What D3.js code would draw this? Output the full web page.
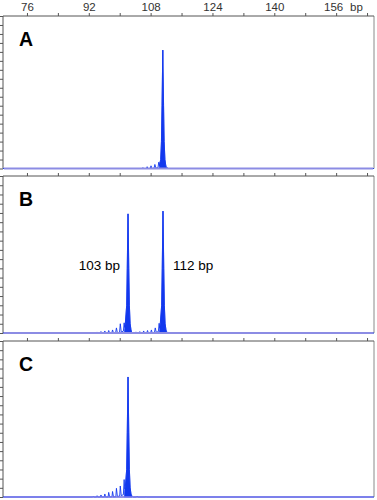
<!DOCTYPE html>
<html><head><meta charset="utf-8">
<script src="https://cdn.jsdelivr.net/npm/d3@7"></script>
<style>
html,body{margin:0;padding:0;background:#fff;}
svg{display:block;font-family:"Liberation Sans",Arial,sans-serif;}
</style></head>
<body>
<svg id="c" width="377" height="500"></svg>
<script>
// ---- data (bp, relative fluorescence) ----
const xTickValues = [76,84,92,100,108,116,124,132,140,148,156,164];
const xTickLabels = ["76","92","108","124","140","156"];
const xUnit = "bp";
const yTickValues = [0,100,200,300,400,500,600,700,800,900,1000,1100,1200,1300,1400,1500,1600,1700];
const panelNames = ["A","B","C"];
const peakLabels = [{panel:1, text:"103 bp", bp:102.15}, {panel:1, text:"112 bp", bp:111.2}];

const traceA = [[69.8,0],[105.8,0],[106.0,10],[106.2,0],[106.9,0],[107.1,20],[107.3,0],[107.9,2],[108.1,30],[108.35,0],[108.9,4],[109.1,45],[109.35,5],[109.9,8],[110.1,70],[110.3,30],[110.4,60],[110.6,100],[110.8,300],[110.95,700],[111.15,1320],[111.35,700],[111.5,300],[111.7,100],[111.9,40],[112.1,0],[112.35,10],[112.55,0],[165.8,0]];
const fillA = [[110.2,0],[110.4,60],[110.6,100],[110.8,300],[110.95,700],[111.15,1320],[111.35,700],[111.5,300],[111.7,100],[111.9,40],[112.1,0]];

const traceB = [[69.8,0],[94.0,0],[94.15,11],[94.35,0],[95.0,0],[95.15,16],[95.35,0],[95.95,0],[96.15,22],[96.35,0],[96.95,0],[97.15,27],[97.4,0],[97.95,2],[98.15,33],[98.4,0],[98.95,4],[99.15,55],[99.4,2],[99.95,6],[100.15,100],[100.4,10],[100.95,20],[101.15,110],[101.3,60],[101.45,100],[101.8,300],[101.95,700],[102.15,1290],[102.35,700],[102.5,300],[102.7,100],[102.9,40],[103.1,0],[103.25,10],[103.45,0],[104.0,0],[104.2,12],[104.4,0],[105.0,0],[105.2,15],[105.4,0],[106.0,0],[106.2,22],[106.4,0],[107.0,2],[107.2,27],[107.4,0],[108.0,3],[108.2,33],[108.4,2],[109.0,6],[109.2,55],[109.45,8],[110.0,15],[110.2,105],[110.35,50],[110.5,100],[110.85,300],[111.0,700],[111.2,1320],[111.4,700],[111.55,300],[111.75,100],[111.95,40],[112.15,0],[112.35,12],[112.55,0],[165.8,0]];
const fillB1 = [[101.2,0],[101.3,60],[101.45,100],[101.8,300],[101.95,700],[102.15,1290],[102.35,700],[102.5,300],[102.7,100],[102.9,40],[103.1,0]];
const fillB2 = [[110.25,0],[110.35,50],[110.5,100],[110.85,300],[111.0,700],[111.2,1320],[111.4,700],[111.55,300],[111.75,100],[111.95,40],[112.15,0]];

const traceC = [[69.8,0],[93.0,0],[93.15,8],[93.35,0],[94.0,0],[94.15,14],[94.35,0],[95.0,0],[95.15,22],[95.35,0],[96.0,0],[96.15,33],[96.35,0],[97.0,0],[97.15,50],[97.4,0],[98.0,3],[98.15,60],[98.4,0],[99.0,5],[99.15,95],[99.4,5],[100.0,10],[100.15,120],[100.4,15],[100.95,25],[101.15,190],[101.3,90],[101.45,110],[101.8,300],[101.95,700],[102.15,1308],[102.35,700],[102.5,300],[102.7,100],[102.9,40],[103.1,0],[103.3,8],[103.5,0],[104.3,0],[104.5,10],[104.7,0],[106.6,0],[106.8,6],[107.0,0],[165.8,0]];
const fillC = [[101.2,0],[101.3,90],[101.45,110],[101.8,300],[101.95,700],[102.15,1308],[102.35,700],[102.5,300],[102.7,100],[102.9,40],[103.1,0]];

const traces = [traceA, traceB, traceC];
const fills = [[fillA],[fillB1,fillB2],[fillC]];

// ---- layout ----
const svg = d3.select("#c");
const left = 3, right = 374;
const panels = [{top:16,bottom:168.5},{top:176,bottom:333},{top:341,bottom:497}];
const x = d3.scaleLinear().domain([69.8,165.8]).range([left,right]);

const blue = "#1238ee";

panels.forEach((p,i)=>{
  const y = d3.scaleLinear().domain([0,1700]).range([p.bottom,p.top]);
  const g = svg.append("g");
  // frame
  g.append("line").attr("x1",right).attr("x2",right).attr("y1",p.top).attr("y2",p.bottom).attr("stroke","#8a8a8a").attr("stroke-width",1);
  g.append("line").attr("x1",left).attr("x2",right).attr("y1",p.bottom).attr("y2",p.bottom).attr("stroke","#9a9a9a").attr("stroke-width",1);
  // top axis
  const ax = d3.axisTop(x).tickValues(xTickValues).tickSize(3).tickPadding(2)
     .tickFormat(v => (i===0 && xTickLabels.indexOf(String(v))>=0) ? String(v) : "");
  const axg = g.append("g").attr("transform",`translate(0,${p.top})`).call(ax);
  axg.select(".domain").attr("stroke","#555").attr("d",`M${left},0H${right}`);
  axg.selectAll(".tick line").attr("stroke","#555");
  axg.selectAll(".tick text").attr("font-size","11.5px").attr("fill","#333")
     .attr("font-family","'Liberation Sans',Arial,sans-serif")
     .attr("dx", d => d===156 ? -3 : 0);
  // left axis
  const ay = d3.axisLeft(y).tickValues(yTickValues).tickSize(3).tickFormat("");
  const ayg = g.append("g").attr("transform",`translate(${left},0)`).call(ay);
  ayg.select(".domain").attr("stroke","#555").attr("d",`M0,${p.top}V${p.bottom}`);
  ayg.selectAll(".tick line").attr("stroke","#555");
  // filled peaks
  const area = d3.area().x(d=>x(d[0])).y0(y(0)).y1(d=>y(d[1]));
  fills[i].forEach(f=>{
    g.append("path").attr("d",area(f)).attr("fill",blue).attr("stroke",blue).attr("stroke-width",0.6);
  });
  // trace line
  const line = d3.line().x(d=>x(d[0])).y(d=>y(d[1]));
  g.append("path").attr("d",line(traces[i])).attr("fill","none").attr("stroke",blue).attr("stroke-width",0.9);
  // baseline (drawn over the flat part of the trace)
  g.append("line").attr("x1",left+1).attr("x2",right-1).attr("y1",y(0)).attr("y2",y(0))
    .attr("stroke", i<2 ? "#8c8ce4" : "#7e7ef0").attr("stroke-width", i<2 ? 2.2 : 1.4);
  // panel letter
  g.append("text").attr("x",19).attr("y",p.top+30).attr("font-size","19.5px").attr("font-weight","bold")
    .attr("fill","#000").text(panelNames[i]);
  // peak labels
  peakLabels.filter(l=>l.panel===i).forEach(l=>{
    const onLeft = l.bp < 106;
    g.append("text").attr("x", onLeft ? x(l.bp)-8 : x(l.bp)+10).attr("y", y(0)-63)
      .attr("text-anchor", onLeft ? "end" : "start").attr("font-size","13.5px").attr("fill","#000").text(l.text);
  });
});
// unit label
svg.append("text").attr("x",350).attr("y",10.5).attr("font-size","11.5px").attr("fill","#333").text(xUnit);
</script>
</body></html>
